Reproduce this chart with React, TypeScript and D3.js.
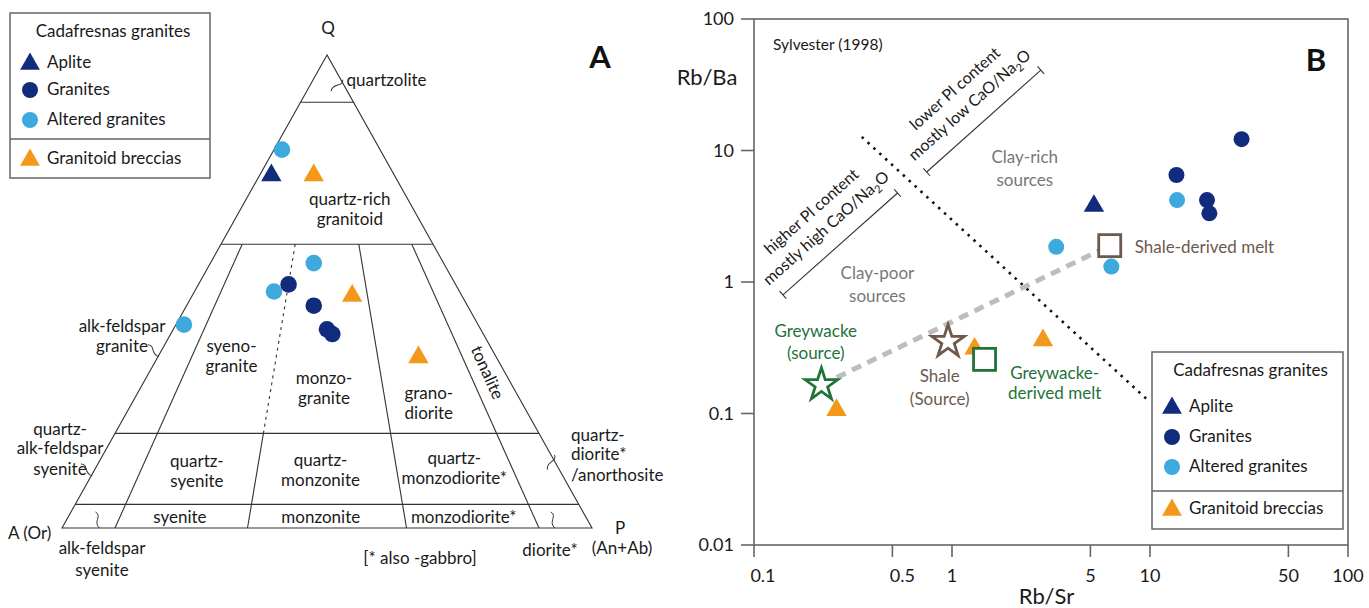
import React from 'react'
import * as d3 from 'd3'

const FONT = 'Lato, "Open Sans", sans-serif'
const DARK = '#112c7c'
const LIGHT = '#3ea9dc'
const ORANGE = '#f4981b'
const GREEN = '#22733a'
const BROWN = '#6d5a4d'
const INK = '#1a1a1a'

// ---- panel A : QAP modal values in %, [Q, A, P]
const qapAplite = [[75, 23, 2]]
const qapGranites = [[51.5, 31.5, 17], [47, 29, 24], [42, 29, 29], [41, 28.5, 30.5]]
const qapAltered = [[80, 18.5, 1.5], [56, 24.5, 19.5], [50, 35, 15], [43, 55.5, 1.5]]
const qapBreccias = [[75, 15, 10], [49.5, 20.5, 30], [36.5, 14.5, 49]]

const qLevels = [90, 60, 20, 5]
const pRatios = [10, 35, 65, 90]
const dashedRatio = 35
const dashedQ = [20, 60]

// field names: [label lines, Q %, P/(A+P) %]
const fieldNames: [string[], number, number][] = [
  [['quartz-rich', 'granitoid'], 67.4, 63.2],
  [['syeno-', 'granite'], 36.3, 21.7],
  [['monzo-', 'granite'], 29.6, 49.2],
  [['grano-', 'diorite'], 26.4, 76.1],
  [['quartz-', 'syenite'], 12, 22.1],
  [['quartz-', 'monzonite'], 12.3, 48.6],
  [['quartz-', 'monzodiorite*'], 12.7, 77.5],
  [['syenite'], 2.3, 21.6],
  [['monzonite'], 2.3, 48.8],
  [['monzodiorite*'], 2.3, 76.4]
]

// ---- panel B : Rb/Sr vs Rb/Ba
const xTicks = [0.1, 0.5, 1, 5, 10, 50, 100]
const yTicks = [0.01, 0.1, 1, 10, 100]
const rbSrGranites = [29.0, 13.6, 19.4, 19.95]
const rbBaGranites = [12.2, 6.51, 4.2, 3.33]
const rbSrAltered = [13.7, 3.36, 6.38]
const rbBaAltered = [4.2, 1.85, 1.31]
const rbSrAplite = [5.21]
const rbBaAplite = [3.92]
const rbSrBreccias = [0.261, 1.30, 2.88]
const rbBaBreccias = [0.11, 0.322, 0.373]
const sourceRbSr = [0.219, 0.955] // greywacke, shale
const sourceRbBa = [0.165, 0.352]
const meltRbSr = [1.46, 6.26] // greywacke-derived, shale-derived
const meltRbBa = [0.258, 1.89]
const boundaryRbSr = [0.35, 10]
const boundaryRbBa = [12.7, 0.122]

const tri = d3.symbol().type(d3.symbolTriangle).size(180)
const triSmall = d3.symbol().type(d3.symbolTriangle).size(170)
const star = d3.symbol().type(d3.symbolStar).size(330)

const Curl = ({ x, y, a }: { x: number, y: number, a: number }) => (
  <path d='M-2,-8 C5,-4 -5,2 2,8' transform={`translate(${x},${y}) rotate(${a})`}
    fill='none' stroke='#333' strokeWidth={1} />
)

const Legend = ({ x0, y0, w, h, split, rows }: { x0: number, y0: number, w: number, h: number, split: number, rows: number[] }) => (
  <g>
    <rect x={x0} y={y0} width={w} height={h} fill='#fff' stroke='#666' strokeWidth={1.5} />
    <line x1={x0} x2={x0 + w} y1={split} y2={split} stroke='#666' strokeWidth={1.5} />
    <text x={x0 + w / 2 + 3} y={rows[0]} textAnchor='middle' fontSize={17} fill={INK}>Cadafresnas granites</text>
    <path d={triSmall()!} transform={`translate(${x0 + 20},${rows[1] - 4})`} fill={DARK} />
    <text x={x0 + 37} y={rows[1]} fontSize={17} fill={INK}>Aplite</text>
    <circle cx={x0 + 20} cy={rows[2] - 5} r={8} fill={DARK} />
    <text x={x0 + 37} y={rows[2]} fontSize={17} fill={INK}>Granites</text>
    <circle cx={x0 + 20} cy={rows[3] - 5} r={8} fill={LIGHT} />
    <text x={x0 + 37} y={rows[3]} fontSize={17} fill={INK}>Altered granites</text>
    <path d={triSmall()!} transform={`translate(${x0 + 20},${rows[4] - 4})`} fill={ORANGE} />
    <text x={x0 + 37} y={rows[4]} fontSize={17} fill={INK}>Granitoid breccias</text>
  </g>
)

const PanelA = () => {
  const apex = { x: 327, y: 55 }
  const qY = d3.scaleLinear().domain([0, 100]).range([528, apex.y])
  const rX = d3.scaleLinear().domain([0, 100]).range([62, 592])
  const tern = (q: number, r: number): [number, number] => {
    const t = q / 100
    return [t * apex.x + (1 - t) * rX(r), qY(q)]
  }
  const qap = (d: number[]) => tern(d[0], (d[2] / (d[1] + d[2])) * 100)
  const line = d3.line()
  const A = tern(0, 0)
  const P = tern(0, 100)
  const Q = tern(100, 0)
  const tonal = tern(32.8, 94.8)
  const tonAng = Math.atan2(tern(0, 90)[1] - tern(60, 90)[1], tern(0, 90)[0] - tern(60, 90)[0]) * 180 / Math.PI
  const s = { stroke: '#333', strokeWidth: 1.1, fill: 'none' }
  const fs = 17

  return (
    <g fill={INK}>
      <path d={line([Q, A, P])! + 'Z'} {...s} />
      {qLevels.map(q => <path key={q} d={line([tern(q, 0), tern(q, 100)])!} {...s} />)}
      {pRatios.map(r => r === dashedRatio
        ? <g key={r}>
            <path d={line([tern(dashedQ[1], r), tern(dashedQ[0], r)])!} {...s} strokeDasharray='3,4' />
            <path d={line([tern(dashedQ[0], r), tern(0, r)])!} {...s} />
          </g>
        : <path key={r} d={line([tern(60, r), tern(0, r)])!} {...s} />)}

      {fieldNames.map(([lines, q, r], i) => {
        const [cx, cy] = tern(q, r)
        return (
          <text key={i} x={cx} textAnchor='middle' fontSize={fs}>
            {lines.map((l, j) => <tspan key={j} x={cx} y={cy + 6 + (j - (lines.length - 1) / 2) * 20}>{l}</tspan>)}
          </text>
        )
      })}
      <text transform={`translate(${tonal[0]},${tonal[1]}) rotate(${tonAng})`} y={5} textAnchor='middle' fontSize={fs}>tonalite</text>

      {/* apex / corner labels */}
      <text x={Q[0] + 1} y={Q[1] - 21} textAnchor='middle' fontSize={fs}>Q</text>
      <text x={A[0] - 54} y={A[1] + 11} fontSize={fs}>A (Or)</text>
      <text x={P[0] + 28} y={P[1] + 6} textAnchor='middle' fontSize={fs}>P</text>
      <text x={P[0] + 30} y={P[1] + 26} textAnchor='middle' fontSize={fs}>(An+Ab)</text>

      {/* labels outside the triangle */}
      <Curl x={tern(94, 100)[0] - 6} y={tern(94, 100)[1] + 2} a={60} />
      <text x={tern(94.5, 100)[0] + 5} y={tern(94.5, 100)[1] + 5} fontSize={fs}>quartzolite</text>
      <Curl x={tern(37.5, 0)[0] - 8} y={tern(37.5, 0)[1]} a={-30} />
      <text textAnchor='middle' fontSize={fs}>
        <tspan x={122} y={tern(42.7, 0)[1] + 6}>alk-feldspar</tspan>
        <tspan x={122} y={tern(38.5, 0)[1] + 6}>granite</tspan>
      </text>
      <Curl x={tern(12.3, 0)[0] - 8} y={tern(12.3, 0)[1]} a={-30} />
      <text textAnchor='middle' fontSize={fs}>
        <tspan x={60} y={tern(21, 0)[1] + 6}>quartz-</tspan>
        <tspan x={60} y={tern(16.9, 0)[1] + 6}>alk-feldspar</tspan>
        <tspan x={60} y={tern(12.5, 0)[1] + 6}>syenite</tspan>
      </text>
      <Curl x={tern(13.6, 100)[0] - 5} y={tern(13.9, 100)[1]} a={40} />
      <text fontSize={fs}>
        <tspan x={571} y={tern(19.6, 100)[1] + 6}>quartz-</tspan>
        <tspan x={571} y={tern(15.6, 100)[1] + 6}>diorite*</tspan>
        <tspan x={571} y={tern(11.2, 100)[1] + 6}>/anorthosite</tspan>
      </text>
      <Curl x={rX(6.7)} y={520} a={0} />
      <Curl x={rX(92.6)} y={520} a={0} />
      <text textAnchor='middle' fontSize={fs}>
        <tspan x={102} y={554}>alk-feldspar</tspan>
        <tspan x={102} y={576}>syenite</tspan>
      </text>
      <text x={550} y={556} textAnchor='middle' fontSize={fs}>diorite*</text>
      <text x={420} y={564} textAnchor='middle' fontSize={fs}>[* also -gabbro]</text>

      {/* data */}
      {qapGranites.map((d, i) => { const [px, py] = qap(d); return <circle key={'g' + i} cx={px} cy={py} r={8.3} fill={DARK} /> })}
      {qapAltered.map((d, i) => { const [px, py] = qap(d); return <circle key={'a' + i} cx={px} cy={py} r={8.3} fill={LIGHT} /> })}
      {qapAplite.map((d, i) => { const [px, py] = qap(d); return <path key={'p' + i} d={tri()!} transform={`translate(${px},${py + 2})`} fill={DARK} /> })}
      {qapBreccias.map((d, i) => { const [px, py] = qap(d); return <path key={'b' + i} d={tri()!} transform={`translate(${px},${py + 2})`} fill={ORANGE} /> })}

      <Legend x0={10} y0={13} w={200} h={165} split={139} rows={[37, 68, 95, 125, 164]} />
      <text x={600} y={68} textAnchor='middle' fontSize={31} fontWeight='bold' fill='#111'>A</text>
    </g>
  )
}

const PanelB = () => {
  const x = d3.scaleLog().domain([0.1, 100]).range([754, 1348])
  const y = d3.scaleLog().domain([0.01, 100]).range([545, 19])
  const [x0, x1] = x.range()
  const [y0, y1] = y.range()
  const line = d3.line<[number, number]>().x(d => x(d[0])).y(d => y(d[1]))

  const bracket = (p: [number, number], q: [number, number], l1: string, l2: string) => {
    const ax = x(p[0]), ay = y(p[1]), bx = x(q[0]), by = y(q[1])
    const ang = Math.atan2(by - ay, bx - ax) * 180 / Math.PI
    const len = Math.hypot(bx - ax, by - ay)
    return (
      <g transform={`translate(${(ax + bx) / 2},${(ay + by) / 2}) rotate(${ang})`}>
        <line x1={-len / 2} x2={len / 2} y1={0} y2={0} stroke='#333' strokeWidth={1.1} />
        <line x1={-len / 2} x2={-len / 2} y1={-5} y2={5} stroke='#333' strokeWidth={1.1} />
        <line x1={len / 2} x2={len / 2} y1={-5} y2={5} stroke='#333' strokeWidth={1.1} />
        <text y={-38} textAnchor='middle' fontSize={16} fill={INK}>{l1}</text>
        <text y={-16} textAnchor='middle' fontSize={16} fill={INK}>
          {l2}CaO/Na<tspan dy={4} fontSize={11}>2</tspan><tspan dy={-4}>O</tspan>
        </text>
      </g>
    )
  }

  const gws = [sourceRbSr[0], sourceRbBa[0]] as [number, number]
  const shs = [sourceRbSr[1], sourceRbBa[1]] as [number, number]
  const gwm = [meltRbSr[0], meltRbBa[0]] as [number, number]
  const shm = [meltRbSr[1], meltRbBa[1]] as [number, number]

  return (
    <g>
      <rect x={x0} y={y1} width={x1 - x0} height={y0 - y1} fill='none' stroke='#666' strokeWidth={1.6} />
      {xTicks.map(t => (
        <g key={t}>
          <line x1={x(t)} x2={x(t)} y1={y0} y2={y0 + 12} stroke='#666' strokeWidth={1.6} />
          <text x={x(t) + (t === 0.1 ? 9 : t === 0.5 ? 10 : 0)} y={y0 + 37} textAnchor='middle' fontSize={18} fill={INK}>{t}</text>
        </g>
      ))}
      {yTicks.map(t => (
        <g key={t}>
          <line x1={x0 - 13} x2={x0} y1={y(t)} y2={y(t)} stroke='#666' strokeWidth={1.6} />
          <text x={x0 - 20} y={y(t) + 6} textAnchor='end' fontSize={18} fill={INK}>{t}</text>
        </g>
      ))}
      <text x={707} y={85} textAnchor='middle' fontSize={22} fill={INK}>Rb/Ba</text>
      <text x={x(3)} y={604} textAnchor='middle' fontSize={22} fill={INK}>Rb/Sr</text>
      <text x={x0 + 19} y={y1 + 31} fontSize={15.5} fill={INK}>Sylvester (1998)</text>
      <text x={1316} y={71} textAnchor='middle' fontSize={31} fontWeight='bold' fill='#111'>B</text>

      <path d={line(boundaryRbSr.map((v, i) => [v, boundaryRbBa[i]]))!} fill='none' stroke='#111'
        strokeWidth={2.6} strokeDasharray='2.5,5.5' />
      {bracket([0.745, 6.86], [2.81, 40.9], 'lower Pl content', 'mostly low ')}
      {bracket([0.14, 0.797], [0.531, 4.75], 'higher Pl content', 'mostly high ')}

      <text textAnchor='middle' fontSize={17} fill='#777'>
        <tspan x={x(2.33)} y={y(7.3) - 5}>Clay-rich</tspan>
        <tspan x={x(2.33)} y={y(7.3) + 18}>sources</tspan>
      </text>
      <text textAnchor='middle' fontSize={17} fill='#777'>
        <tspan x={x(0.42)} y={y(0.97) - 5}>Clay-poor</tspan>
        <tspan x={x(0.42)} y={y(0.97) + 18}>sources</tspan>
      </text>

      <path d={line([gws, shm])!} fill='none' stroke='#bdbdbd' strokeWidth={5} strokeDasharray='10,7' />

      {rbSrGranites.map((v, i) => <circle key={'g' + i} cx={x(v)} cy={y(rbBaGranites[i])} r={8} fill={DARK} />)}
      {rbSrAltered.map((v, i) => <circle key={'a' + i} cx={x(v)} cy={y(rbBaAltered[i])} r={8} fill={LIGHT} />)}
      {rbSrAplite.map((v, i) => <path key={'p' + i} d={tri()!} transform={`translate(${x(v)},${y(rbBaAplite[i]) + 2})`} fill={DARK} />)}
      {rbSrBreccias.map((v, i) => <path key={'b' + i} d={tri()!} transform={`translate(${x(v)},${y(rbBaBreccias[i]) + 2})`} fill={ORANGE} />)}

      <path d={star()!} transform={`translate(${x(gws[0])},${y(gws[1])})`} fill='#fff' stroke={GREEN} strokeWidth={2.8} />
      <path d={star()!} transform={`translate(${x(shs[0])},${y(shs[1])})`} fill='#fff' stroke={BROWN} strokeWidth={2.8} />
      <rect x={x(gwm[0]) - 11} y={y(gwm[1]) - 11} width={22} height={22} fill='#fff' stroke={GREEN} strokeWidth={2.8} />
      <rect x={x(shm[0]) - 11} y={y(shm[1]) - 11} width={22} height={22} fill='#fff' stroke={BROWN} strokeWidth={2.8} />

      <text textAnchor='middle' fontSize={17} fill={GREEN}>
        <tspan x={x(0.205)} y={y(0.347) - 5}>Greywacke</tspan>
        <tspan x={x(0.205)} y={y(0.347) + 17}>(source)</tspan>
      </text>
      <text textAnchor='middle' fontSize={17} fill={BROWN}>
        <tspan x={x(0.867)} y={y(0.16) - 5}>Shale</tspan>
        <tspan x={x(0.867)} y={y(0.16) + 18}>(Source)</tspan>
      </text>
      <text textAnchor='middle' fontSize={17} fill={GREEN}>
        <tspan x={x(3.3)} y={y(0.172) - 4}>Greywacke-</tspan>
        <tspan x={x(3.3)} y={y(0.172) + 16}>derived melt</tspan>
      </text>
      <text x={x(8.37)} y={y(1.85) + 6} fontSize={17} fill={BROWN}>Shale-derived melt</text>

      <Legend x0={1152} y0={352} w={191} h={177} split={491} rows={[376, 412, 442, 472, 514]} />
    </g>
  )
}

export default function App() {
  return (
    <div style={{ position: 'absolute', left: 0, top: 0 }}>
      <svg width={1369} height={608} style={{ display: 'block', background: '#fff', fontFamily: FONT }}>
        <PanelA />
        <PanelB />
      </svg>
    </div>
  )
}
